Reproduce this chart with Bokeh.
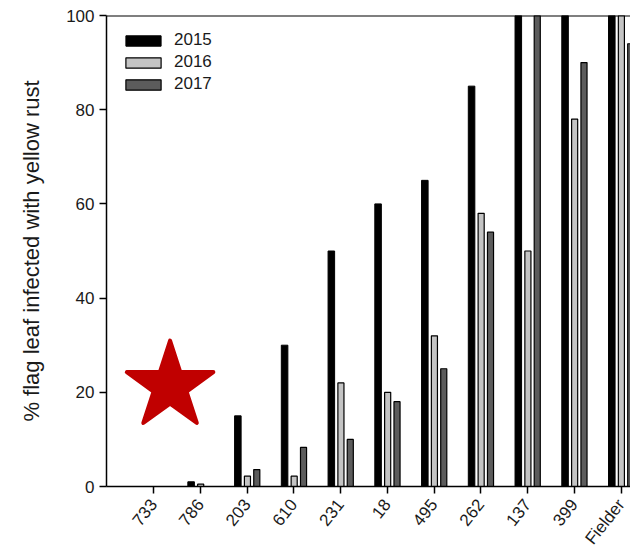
from bokeh.plotting import figure
from bokeh.models import ColumnDataSource, FixedTicker, Span, Legend, LegendItem
from bokeh.embed import file_html
from bokeh.resources import INLINE
from bokeh.transform import dodge

lines = ["733", "786", "203", "610", "231", "18", "495", "262", "137", "399", "Fielder"]
y2015 = [0, 1, 15, 30, 50, 60, 65, 85, 100, 100, 100]
y2016 = [0, 0.5, 2.2, 2.2, 22, 20, 32, 58, 50, 78, 100]
y2017 = [0, 0, 3.6, 8.3, 10, 18, 25, 54, 100, 90, 94]
years = ["2015", "2016", "2017"]
yticks = [0, 20, 40, 60, 80, 100]

star_x = [0.35]
star_y = [21.3]

xpos = list(range(len(lines)))
src = ColumnDataSource(dict(x=xpos, y2015=y2015, y2016=y2016, y2017=y2017))

FONT = "Liberation Sans"

p = figure(width=630, height=557, x_range=(-1.01, 10.2), y_range=(0, 100),
           output_backend="svg", toolbar_location=None,
           min_border_left=106, min_border_right=0, min_border_top=15, min_border_bottom=70)
p.outline_line_color = None
p.xgrid.visible = False
p.ygrid.visible = False
p.background_fill_color = "white"

r1 = p.vbar(x=dodge("x", -0.2, range=p.x_range), top="y2015", width=0.14, source=src,
            fill_color="black", line_color="black", line_width=1)
r2 = p.vbar(x=dodge("x", 0.005, range=p.x_range), top="y2016", width=0.13, source=src,
            fill_color="#c4c4c4", line_color="black", line_width=1.2)
r3 = p.vbar(x=dodge("x", 0.205, range=p.x_range), top="y2017", width=0.13, source=src,
            fill_color="#5c5c5c", line_color="black", line_width=1.2)

p.scatter(x=star_x, y=star_y, marker="star", size=91, fill_color="#c00000",
          line_color="#c00000", line_width=4, line_join="round")

p.add_layout(Span(location=100, dimension="width", line_color="black", line_width=2))

# axes
p.xaxis.ticker = FixedTicker(ticks=xpos)
p.xaxis.major_label_overrides = {i: lab for i, lab in zip(xpos, lines)}
p.xaxis.major_label_orientation = 0.9
p.yaxis.ticker = FixedTicker(ticks=yticks)
p.yaxis.axis_label = "% flag leaf infected with yellow rust"

for ax in (p.xaxis[0], p.yaxis[0]):
    ax.axis_line_color = "black"
    ax.axis_line_width = 1.5
    ax.major_tick_line_color = "black"
    ax.major_tick_line_width = 1.5
    ax.major_tick_out = 7
    ax.major_tick_in = 0
    ax.minor_tick_line_color = None
    ax.major_label_text_font = FONT
    ax.major_label_text_font_size = "17px"
    ax.major_label_text_color = "#1a1a1a"
    ax.major_label_standoff = 5

p.xaxis.major_label_standoff = 8

p.yaxis.axis_label_text_font = FONT
p.yaxis.axis_label_text_font_size = "22px"
p.yaxis.axis_label_text_font_style = "normal"
p.yaxis.axis_label_text_color = "#1a1a1a"
p.yaxis.axis_label_standoff = 19

legend = Legend(items=[LegendItem(label=years[0], renderers=[r1]),
                       LegendItem(label=years[1], renderers=[r2]),
                       LegendItem(label=years[2], renderers=[r3])],
                location=(15, 392), orientation="vertical",
                glyph_width=44, glyph_height=13, label_height=13, spacing=2,
                label_standoff=9, padding=0, margin=0,
                border_line_color=None, background_fill_alpha=0,
                label_text_font=FONT, label_text_font_size="17px",
                label_text_color="#1a1a1a")
p.add_layout(legend, "center")

open("out.html", "w").write(file_html(p, INLINE))
